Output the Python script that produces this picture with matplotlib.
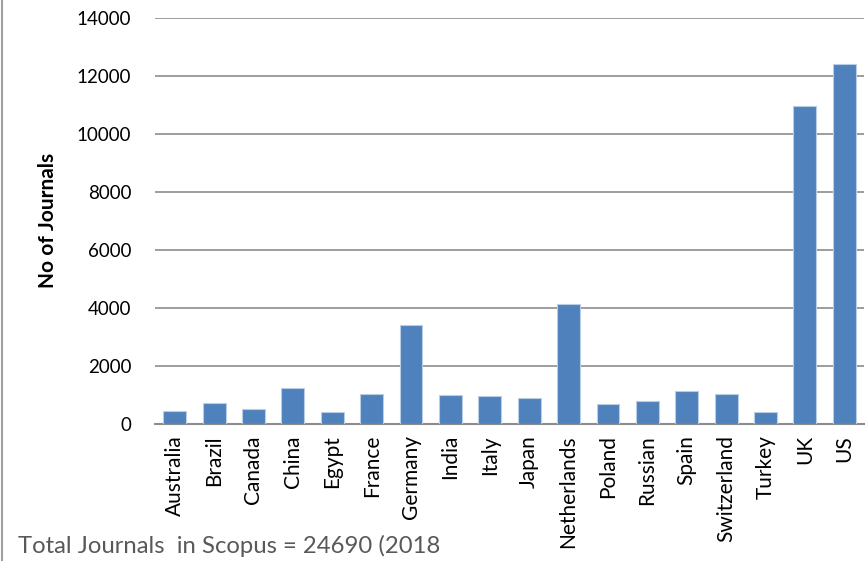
import matplotlib
matplotlib.use("Agg")
import matplotlib.pyplot as plt

countries = ["Australia", "Brazil", "Canada", "China", "Egypt", "France", "Germany",
             "India", "Italy", "Japan", "Netherlands", "Poland", "Russian", "Spain",
             "Switzerland", "Turkey", "UK", "US"]
journals = [434, 724, 517, 1241, 414, 1045, 3400, 986, 966, 907, 4148, 700, 793,
            1124, 1034, 414, 10976, 12410]
yticks = [0, 2000, 4000, 6000, 8000, 10000, 12000, 14000]

plt.rcParams['font.family'] = ['Lato', 'DejaVu Sans']

fig = plt.figure(figsize=(8.67, 5.61), dpi=100)
ax = fig.add_axes([155/867, 1 - 424/561, (864-155)/867, (424-18)/561])

x = range(len(countries))
ax.bar(x, journals, width=0.58, color="#4F81BD", edgecolor="#B9CDE5", linewidth=0.8, zorder=3)
ax.set_xlim(-0.5, len(countries) - 0.5)
ax.set_ylim(0, 14000)
ax.set_yticks(yticks)
ax.set_yticklabels([str(v) for v in yticks], fontsize=13.5)
ax.set_xticks(list(x))
ax.set_xticklabels(countries, rotation=90, fontsize=15)
ax.tick_params(axis='x', length=0, pad=8)
ax.tick_params(axis='y', length=0, pad=17)
ax.grid(axis='y', color="#8C8C8C", linewidth=1.2, zorder=0)
for s in ["top", "right", "left"]:
    ax.spines[s].set_visible(False)
ax.spines["bottom"].set_color("#8C8C8C")
ax.spines["bottom"].set_linewidth(1.5)

fig.text(48/867, 1 - 220/561, "No of Journals", fontsize=15, fontweight='bold',
         rotation=90, ha='center', va='center')
fig.text(18/867, 1 - 546/561, "Total Journals  in Scopus = 24690 (2018", fontsize=17.2,
         color="#595959", va='center', ha='left')
fig.add_artist(plt.Line2D([2/867, 2/867], [0, 1], color="#A0A0A0", linewidth=1.5))

fig.savefig("out.png", dpi=100)
